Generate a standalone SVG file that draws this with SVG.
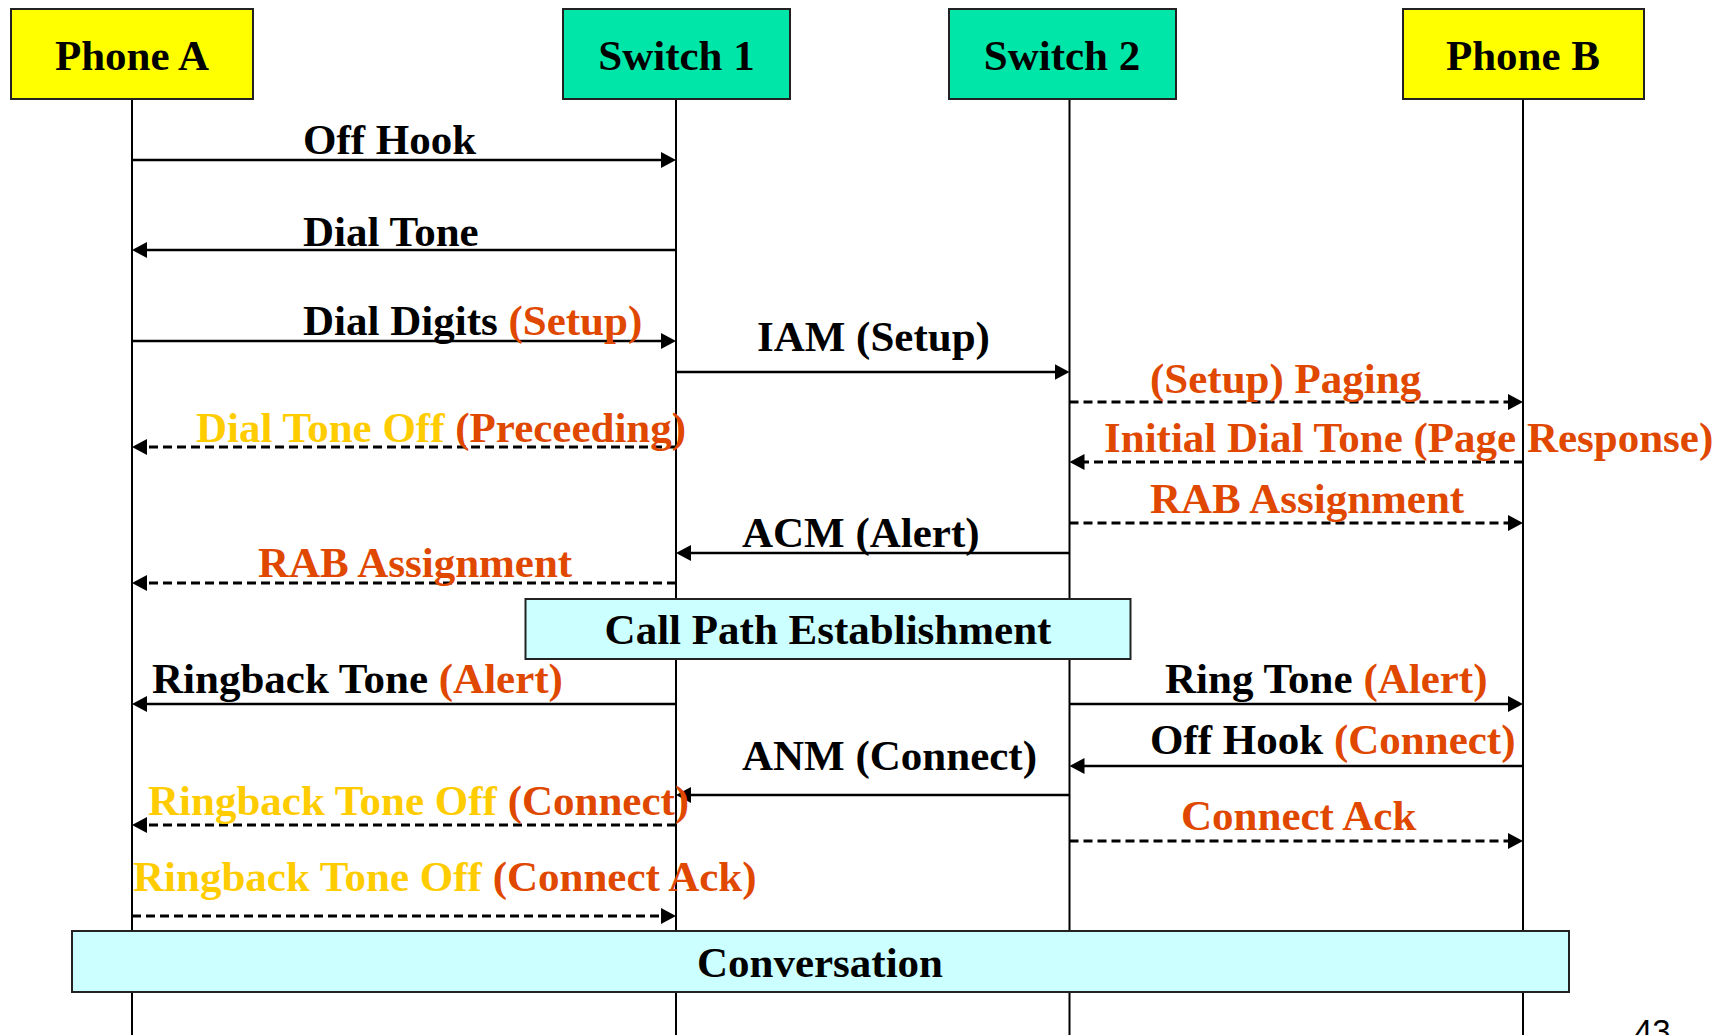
<svg xmlns="http://www.w3.org/2000/svg" width="1722" height="1035" viewBox="0 0 1722 1035">
<style>
  text { font-family: "Liberation Serif", "Times New Roman", serif; font-weight: bold; font-size: 43px; fill: #000; }
  .o { fill: #E04800; }
  .y { fill: #FFCC00; }
  .box { stroke: #222; stroke-width: 2; }
  .phone { fill: #FFFF00; }
  .sw { fill: #00E6A8; }
  .band { fill: #CCFFFF; }
  .life { stroke: #000; stroke-width: 2; }
  .msg { stroke: #000; stroke-width: 2.6; fill: none; marker-end: url(#ah); }
  .d { stroke-dasharray: 9 5; stroke-width: 3; }
  .num { font-family: "Liberation Sans", Arial, sans-serif; font-weight: normal; font-size: 33px; }
</style>
<defs>
  <marker id="ah" markerUnits="userSpaceOnUse" markerWidth="15" markerHeight="16" refX="2" refY="8" orient="auto">
    <path d="M0,0 L15,8 L0,16 z" fill="#000"/>
  </marker>
</defs>
<rect width="1722" height="1035" fill="#fff"/>

<g id="lifelines">
  <line class="life" x1="132" y1="99" x2="132" y2="1035"/>
  <line class="life" x1="676" y1="99" x2="676" y2="1035"/>
  <line class="life" x1="1069.5" y1="99" x2="1069.5" y2="1035"/>
  <line class="life" x1="1523" y1="99" x2="1523" y2="1035"/>
</g>

<g id="phoneA">
  <rect class="box phone" x="11" y="9" width="242" height="90"/>
  <text x="132" y="70" text-anchor="middle">Phone A</text>
</g>
<g id="switch1">
  <rect class="box sw" x="563" y="9" width="227" height="90"/>
  <text x="676.5" y="70" text-anchor="middle">Switch 1</text>
</g>
<g id="switch2">
  <rect class="box sw" x="949" y="9" width="227" height="90"/>
  <text x="1062" y="70" text-anchor="middle">Switch 2</text>
</g>
<g id="phoneB">
  <rect class="box phone" x="1403" y="9" width="241" height="90"/>
  <text x="1523" y="70" text-anchor="middle">Phone B</text>
</g>

<g id="connectors">
  <line class="msg" x1="132" y1="160" x2="663" y2="160"/>
  <line class="msg" x1="676" y1="250" x2="145" y2="250"/>
  <line class="msg" x1="132" y1="341" x2="663" y2="341"/>
  <line class="msg" x1="676" y1="372" x2="1056.5" y2="372"/>
  <line class="msg d" x1="1069.5" y1="402" x2="1510" y2="402"/>
  <line class="msg d" x1="676" y1="447" x2="145" y2="447"/>
  <line class="msg d" x1="1523" y1="462" x2="1082.5" y2="462"/>
  <line class="msg d" x1="1069.5" y1="523" x2="1510" y2="523"/>
  <line class="msg" x1="1069.5" y1="553" x2="689" y2="553"/>
  <line class="msg d" x1="676" y1="583" x2="145" y2="583"/>
  <line class="msg" x1="676" y1="704" x2="145" y2="704"/>
  <line class="msg" x1="1069.5" y1="704" x2="1510" y2="704"/>
  <line class="msg" x1="1523" y1="766" x2="1082.5" y2="766"/>
  <line class="msg" x1="1069.5" y1="795" x2="689" y2="795"/>
  <line class="msg d" x1="676" y1="825" x2="145" y2="825"/>
  <line class="msg d" x1="1069.5" y1="841" x2="1510" y2="841"/>
  <line class="msg d" x1="132" y1="916" x2="663" y2="916"/>
</g>

<g id="labels">
  <text x="303" y="154">Off Hook</text>
  <text x="303" y="246">Dial Tone</text>
  <text x="303" y="335">Dial Digits <tspan class="o">(Setup)</tspan></text>
  <text x="757" y="351">IAM (Setup)</text>
  <text class="o" x="1150" y="393">(Setup) Paging</text>
  <text x="196" y="442"><tspan class="y">Dial Tone Off </tspan><tspan class="o">(Preceeding)</tspan></text>
  <text class="o" x="1104" y="452">Initial Dial Tone (Page Response)</text>
  <text class="o" x="1150" y="513">RAB Assignment</text>
  <text x="742" y="547">ACM (Alert)</text>
  <text class="o" x="258" y="577">RAB Assignment</text>
  <text x="152" y="693">Ringback Tone <tspan class="o">(Alert)</tspan></text>
  <text x="1165" y="693">Ring Tone <tspan class="o">(Alert)</tspan></text>
  <text x="1150" y="754">Off Hook <tspan class="o">(Connect)</tspan></text>
  <text x="742" y="770">ANM (Connect)</text>
  <text x="148" y="815"><tspan class="y">Ringback Tone Off </tspan><tspan class="o">(Connect)</tspan></text>
  <text class="o" x="1181" y="830">Connect Ack</text>
  <text x="133" y="891"><tspan class="y">Ringback Tone Off </tspan><tspan class="o">(Connect Ack)</tspan></text>
</g>

<g id="callPath">
  <rect class="box band" x="525.5" y="599" width="605" height="60"/>
  <text x="828" y="644" text-anchor="middle">Call Path Establishment</text>
</g>
<g id="conversation">
  <rect class="box band" x="72" y="931" width="1497" height="61"/>
  <text x="820" y="977" text-anchor="middle">Conversation</text>
</g>
<text class="num" x="1634" y="1043">43</text>
</svg>
